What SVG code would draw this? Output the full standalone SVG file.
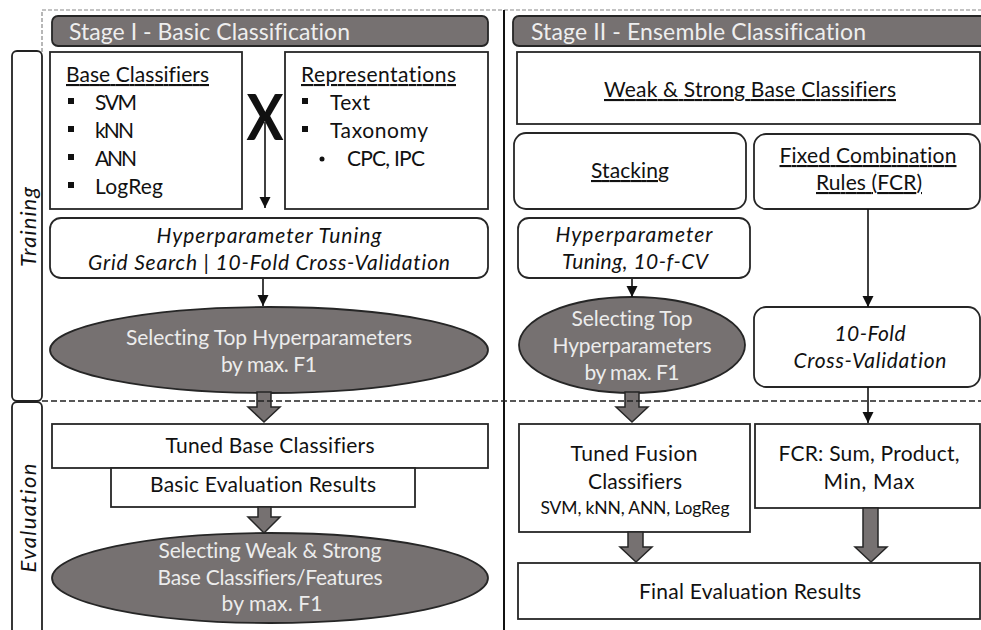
<svg xmlns="http://www.w3.org/2000/svg" width="981" height="630" viewBox="0 0 981 630">
<defs>
<style>
.box{fill:#fff;stroke:#262626;stroke-width:1.8}
.gray{fill:#767171;stroke:#262626;stroke-width:1.8}
.t{font-family:Lato,"Open Sans",sans-serif;font-size:21px;fill:#111;font-variant-ligatures:none}
.i{font-style:italic}
.w{fill:#ececec}
.h{font-size:23px;fill:#eeeeee}
.s{font-size:17.5px}
.c{text-anchor:middle}
.u{text-decoration:underline}
.ln{stroke:#111;stroke-width:1.6;fill:none}
.blk{fill:#767171;stroke:#262626;stroke-width:1.5}
.dash{stroke:#222;stroke-width:1.5;stroke-dasharray:6 3;fill:none}
.tdash{stroke:#888;stroke-width:1.2;stroke-dasharray:4 2;fill:none}
.bul{fill:#111}
</style>
<marker id="ah" markerUnits="userSpaceOnUse" markerWidth="12" markerHeight="12" refX="11" refY="6" orient="auto" viewBox="0 0 12 12"><path d="M0,0.5 L11,6 L0,11.5 z" fill="#111"/></marker>
</defs>
<rect width="981" height="630" fill="#fff"/>

<g id="frame">
<path class="tdash" d="M42,52 V10 H981"/>
<line x1="504" y1="10" x2="504" y2="630" stroke="#111" stroke-width="2"/>
</g>

<g id="lane-training">
<rect x="12" y="51" width="30" height="350" rx="5" fill="none" stroke="#222" stroke-width="1.8"/>
<text class="t i" text-anchor="middle" textLength="80" transform="translate(36,227) rotate(-90)" style="font-size:22px">Training</text>
</g>
<g id="lane-evaluation">
<rect x="12" y="402" width="30" height="250" rx="5" fill="none" stroke="#222" stroke-width="1.8"/>
<text class="t i" text-anchor="middle" textLength="109" transform="translate(36,518) rotate(-90)" style="font-size:22px">Evaluation</text>
</g>

<g id="stage1-header">
<rect class="gray" x="52" y="16" width="436" height="30" rx="6"/>
<text class="t h" x="69" y="40" textLength="281">Stage I - Basic Classification</text>
</g>
<g id="stage2-header">
<rect class="gray" x="513" y="16" width="480" height="30" rx="6"/>
<text class="t h" x="531" y="40" textLength="335">Stage II - Ensemble Classification</text>
</g>

<g id="base-classifiers">
<rect class="box" x="50" y="52" width="192" height="157"/>
<text class="t u" x="66" y="82" textLength="143">Base Classifiers</text>
<rect class="bul" x="68" y="98" width="6" height="6"/>
<rect class="bul" x="68" y="126" width="6" height="6"/>
<rect class="bul" x="68" y="154" width="6" height="6"/>
<rect class="bul" x="68" y="182" width="6" height="6"/>
<text class="t" x="95" y="110" textLength="42">SVM</text>
<text class="t" x="95" y="138" textLength="39">kNN</text>
<text class="t" x="95" y="166" textLength="42">ANN</text>
<text class="t" x="95" y="194" textLength="68">LogReg</text>
</g>

<g id="representations">
<rect class="box" x="285" y="52" width="203" height="157"/>
<text class="t u" x="301" y="82" textLength="155">Representations</text>
<rect class="bul" x="302" y="98" width="6" height="6"/>
<rect class="bul" x="302" y="126" width="6" height="6"/>
<circle class="bul" cx="322" cy="159" r="2.5"/>
<text class="t" x="330" y="110" textLength="40">Text</text>
<text class="t" x="330" y="138" textLength="98">Taxonomy</text>
<text class="t" x="347" y="166" textLength="78">CPC, IPC</text>
</g>

<g id="cross">
<text x="265" y="140" text-anchor="middle" style="font-family:Lato,'Open Sans',sans-serif;font-size:64px;font-weight:bold;fill:#111" textLength="37" lengthAdjust="spacingAndGlyphs">X</text>
</g>

<g id="hyper1">
<rect class="box" x="50" y="218" width="438" height="60" rx="11"/>
<text class="t i c" x="269" y="243" textLength="225">Hyperparameter Tuning</text>
<text class="t i c" x="269" y="270" textLength="362">Grid Search | 10-Fold Cross-Validation</text>
</g>

<g id="select-top1">
<ellipse class="gray" cx="269" cy="350" rx="219" ry="43"/>
<text class="t w c" x="269" y="345" textLength="286">Selecting Top Hyperparameters</text>
<text class="t w c" x="269" y="372" textLength="96">by max. F1</text>
</g>

<g id="tuned-base">
<rect class="box" x="52" y="424" width="436" height="44"/>
<text class="t c" x="270" y="453" textLength="209">Tuned Base Classifiers</text>
</g>

<g id="basic-eval">
<rect class="box" x="111" y="468" width="304" height="39"/>
<text class="t c" x="263" y="492" textLength="226">Basic Evaluation Results</text>
</g>

<g id="select-weak-strong">
<ellipse class="gray" cx="270" cy="578" rx="218" ry="45"/>
<text class="t w c" x="270" y="558" textLength="223">Selecting Weak &amp; Strong</text>
<text class="t w c" x="270" y="585" textLength="225">Base Classifiers/Features</text>
<text class="t w c" x="272" y="611" textLength="101">by  max. F1</text>
</g>

<g id="weak-strong">
<rect class="box" x="517" y="52" width="463" height="72"/>
<text class="t c u" x="750" y="97" textLength="292">Weak &amp; Strong Base Classifiers</text>
</g>

<g id="stacking">
<rect class="box" x="514" y="133" width="232" height="76" rx="12"/>
<text class="t c u" x="630" y="178" textLength="78">Stacking</text>
</g>

<g id="fcr">
<rect class="box" x="754" y="134" width="226" height="75" rx="12"/>
<text class="t c u" x="868" y="163" textLength="177">Fixed Combination</text>
<text class="t c u" x="869" y="190" textLength="106">Rules (FCR)</text>
</g>

<g id="hyper2">
<rect class="box" x="518" y="218" width="232" height="60" rx="11"/>
<text class="t i c" x="634" y="242" textLength="157">Hyperparameter</text>
<text class="t i c" x="635" y="269" textLength="146">Tuning, 10-f-CV</text>
</g>

<g id="select-top2">
<ellipse class="gray" cx="632" cy="345" rx="113" ry="48"/>
<text class="t w c" x="632" y="326" textLength="121">Selecting Top</text>
<text class="t w c" x="632" y="353" textLength="159">Hyperparameters</text>
<text class="t w c" x="632" y="380" textLength="95">by max. F1</text>
</g>

<g id="cv10">
<rect class="box" x="754" y="307" width="226" height="80" rx="12"/>
<text class="t i c" x="870" y="341" textLength="71">10-Fold</text>
<text class="t i c" x="870" y="368" textLength="153">Cross-Validation</text>
</g>

<g id="tuned-fusion">
<rect class="box" x="519" y="424" width="231" height="108"/>
<text class="t c" x="634" y="461" textLength="127">Tuned Fusion</text>
<text class="t c" x="635" y="489" textLength="94">Classifiers</text>
<text class="t s c" x="635" y="514" textLength="189">SVM, kNN, ANN, LogReg</text>
</g>

<g id="fcr-rules">
<rect class="box" x="755" y="424" width="225" height="84"/>
<text class="t c" x="869" y="461" textLength="181">FCR: Sum, Product,</text>
<text class="t c" x="869" y="489" textLength="91">Min, Max</text>
</g>

<g id="final-eval">
<rect class="box" x="518" y="563" width="462" height="56"/>
<text class="t c" x="750" y="599" textLength="222">Final Evaluation Results</text>
</g>

<g id="connectors">
<line class="ln" x1="265" y1="122" x2="265" y2="208" marker-end="url(#ah)"/>
<line class="ln" x1="263" y1="279" x2="263" y2="306" marker-end="url(#ah)"/>
<line class="ln" x1="632" y1="279" x2="632" y2="297" marker-end="url(#ah)"/>
<line class="ln" x1="868" y1="209" x2="868" y2="307" marker-end="url(#ah)"/>
<line class="ln" x1="868" y1="387" x2="868" y2="423" marker-end="url(#ah)"/>
<polygon class="blk" points="257,392 271,392 271,407 280,407 264,422 248,407 257,407"/>
<polygon class="blk" points="258,507 271,507 271,517 280,517 264,533 248,517 258,517"/>
<polygon class="blk" points="625,392 639,392 639,407 648,407 632,422 616,407 625,407"/>
<polygon class="blk" points="628,532 643,532 643,547 652,547 636,562 620,547 628,547"/>
<polygon class="blk" points="863,508 878,508 878,547 887,547 871,562 855,547 863,547"/>
<line class="dash" x1="42" y1="401" x2="981" y2="401"/>
</g>
</svg>
